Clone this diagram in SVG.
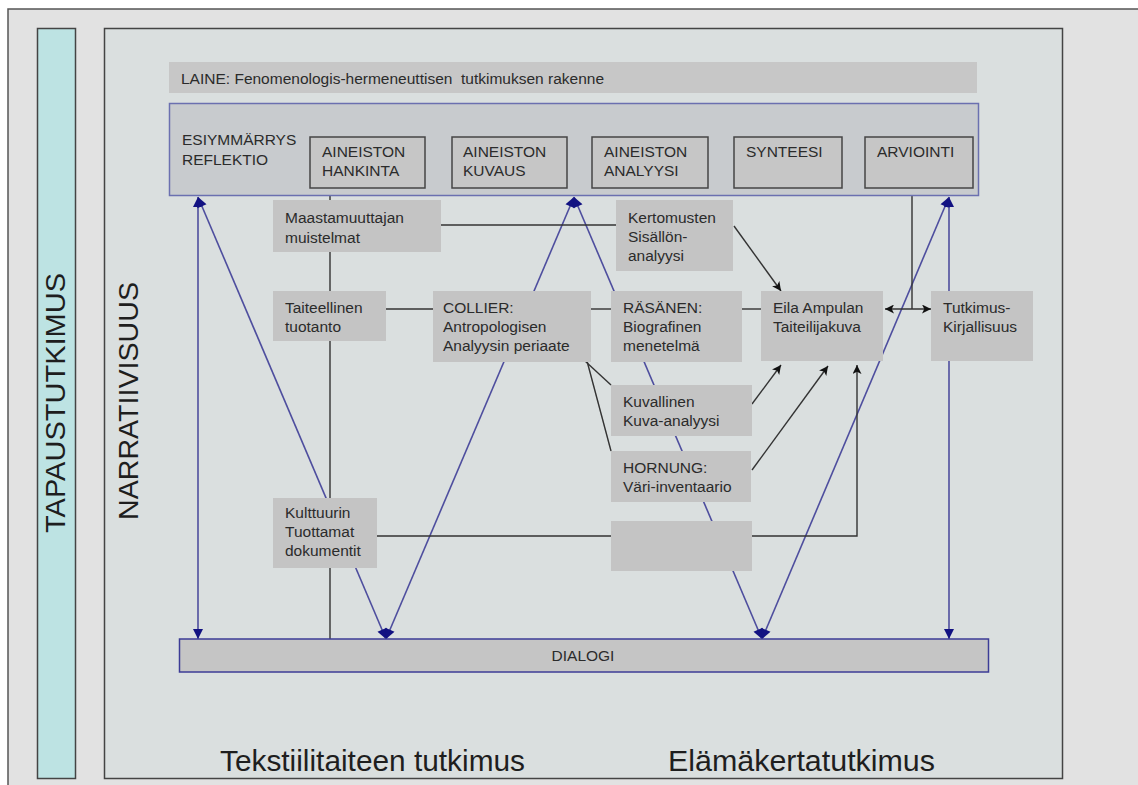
<svg xmlns="http://www.w3.org/2000/svg" width="1138" height="785" viewBox="0 0 1138 785">
<style>
text{font-family:"Liberation Sans",Arial,sans-serif;fill:#2b2b2b}
.lbl{font-size:15.5px}
.big{font-size:30px;fill:#1e1e1e}
.node{fill:#c4c4c4}
.step{fill:#c6c6c6;stroke:#454545;stroke-width:1.5}
.blk{stroke:#333;stroke-width:1.4;fill:none}
.blu{stroke:#4e4e9e;stroke-width:1.6;fill:none}
</style>
<defs>
<marker id="ab" viewBox="0 0 10 10" refX="10" refY="5" markerWidth="11" markerHeight="10" markerUnits="userSpaceOnUse" orient="auto-start-reverse"><path d="M0,0 L10,5 L0,10 z" fill="#121282"/></marker>
<marker id="ak" viewBox="0 0 10 10" refX="10" refY="5" markerWidth="11" markerHeight="9" markerUnits="userSpaceOnUse" orient="auto-start-reverse"><path d="M0,0 L10,5 L0,10 L2.5,5 z" fill="#111"/></marker>
</defs>
<rect x="0" y="0" width="1138" height="785" fill="#ffffff"/>
<rect x="8" y="9" width="1140" height="790" fill="#e2e2e2" stroke="#555" stroke-width="1.5"/>
<g id="tapaustutkimus">
<rect x="37.5" y="28.5" width="38" height="750" fill="#bde3e3" stroke="#444" stroke-width="1.5"/>
<text class="big" transform="translate(65,403) rotate(-90)" text-anchor="middle" style="font-size:28px" textLength="260" lengthAdjust="spacingAndGlyphs">TAPAUSTUTKIMUS</text>
</g>
<g id="panel">
<rect x="104.5" y="28.5" width="958" height="750" fill="#dadfdf" stroke="#444" stroke-width="1.5"/>
<text class="big" transform="translate(138,401) rotate(-90)" text-anchor="middle" style="font-size:28px" textLength="238" lengthAdjust="spacingAndGlyphs">NARRATIIVISUUS</text>
<text class="big" x="220" y="771" textLength="305" lengthAdjust="spacingAndGlyphs">Tekstiilitaiteen tutkimus</text>
<text class="big" x="668" y="771" textLength="267" lengthAdjust="spacingAndGlyphs">Elämäkertatutkimus</text>
</g>
<g id="laine">
<rect x="169" y="62" width="808" height="31" fill="#c7c7c7"/>
<text class="lbl" x="181" y="84" xml:space="preserve">LAINE: Fenomenologis-hermeneuttisen  tutkimuksen rakenne</text>
</g>
<g id="connectors">
<line class="blu" x1="198" y1="639" x2="198" y2="197" marker-start="url(#ab)" marker-end="url(#ab)"/>
<line class="blu" x1="386" y1="639" x2="198" y2="197" marker-start="url(#ab)" marker-end="url(#ab)"/>
<line class="blu" x1="386" y1="639" x2="574" y2="197" marker-start="url(#ab)" marker-end="url(#ab)"/>
<line class="blu" x1="762" y1="639" x2="574" y2="197" marker-start="url(#ab)" marker-end="url(#ab)"/>
<line class="blu" x1="762" y1="639" x2="949" y2="197" marker-start="url(#ab)" marker-end="url(#ab)"/>
<line class="blu" x1="949" y1="639" x2="949" y2="197" marker-start="url(#ab)" marker-end="url(#ab)"/>
<line class="blk" x1="330" y1="188" x2="330" y2="639"/>
<line class="blk" x1="441" y1="225" x2="616" y2="225"/>
<line class="blk" x1="386" y1="309" x2="433" y2="309"/>
<line class="blk" x1="591" y1="309" x2="611" y2="309"/>
<line class="blk" x1="742" y1="309" x2="761" y2="309"/>
<line class="blk" x1="585" y1="361" x2="611" y2="385"/>
<line class="blk" x1="587" y1="361" x2="611" y2="451"/>
<line class="blk" x1="734" y1="226" x2="781" y2="291" marker-end="url(#ak)"/>
<line class="blk" x1="752" y1="404" x2="781" y2="365" marker-end="url(#ak)"/>
<line class="blk" x1="752" y1="470" x2="828" y2="366" marker-end="url(#ak)"/>
<polyline class="blk" points="377,536 857,536 857,365" marker-end="url(#ak)"/>
<line class="blk" x1="912" y1="188" x2="912" y2="309"/>
<line class="blk" x1="885" y1="309" x2="931" y2="309" marker-start="url(#ak)" marker-end="url(#ak)"/>
</g>
<g id="esiymmarrys">
<rect x="169.5" y="103.5" width="809" height="92" fill="#c8cbce" stroke="#6b70b0" stroke-width="1.5"/>
<text class="lbl" x="182" y="145">ESIYMMÄRRYS</text>
<text class="lbl" x="182" y="165">REFLEKTIO</text>
</g>
<g id="hankinta"><rect class="step" x="310" y="137" width="115" height="51"/><text class="lbl" x="322" y="157">AINEISTON</text><text class="lbl" x="322" y="176">HANKINTA</text></g>
<g id="kuvaus"><rect class="step" x="452" y="137" width="115" height="51"/><text class="lbl" x="463" y="157">AINEISTON</text><text class="lbl" x="463" y="176">KUVAUS</text></g>
<g id="analyysi"><rect class="step" x="592" y="137" width="116" height="51"/><text class="lbl" x="604" y="157">AINEISTON</text><text class="lbl" x="604" y="176">ANALYYSI</text></g>
<g id="synteesi"><rect class="step" x="734" y="137" width="108" height="51"/><text class="lbl" x="746" y="157">SYNTEESI</text></g>
<g id="arviointi"><rect class="step" x="865" y="137" width="108" height="51"/><text class="lbl" x="877" y="157">ARVIOINTI</text></g>
<g id="maastamuuttajan"><rect class="node" x="273" y="200" width="168" height="52"/><text class="lbl" x="285" y="223">Maastamuuttajan</text><text class="lbl" x="285" y="243">muistelmat</text></g>
<g id="kertomusten"><rect class="node" x="616" y="200" width="117" height="71"/><text class="lbl" x="628" y="223">Kertomusten</text><text class="lbl" x="628" y="242">Sisällön-</text><text class="lbl" x="628" y="261">analyysi</text></g>
<g id="taiteellinen"><rect class="node" x="273" y="291" width="113" height="50"/><text class="lbl" x="285" y="313">Taiteellinen</text><text class="lbl" x="285" y="332">tuotanto</text></g>
<g id="collier"><rect class="node" x="433" y="291" width="158" height="71"/><text class="lbl" x="443" y="313">COLLIER:</text><text class="lbl" x="443" y="332">Antropologisen</text><text class="lbl" x="443" y="351">Analyysin periaate</text></g>
<g id="rasanen"><rect class="node" x="611" y="291" width="131" height="71"/><text class="lbl" x="623" y="313">RÄSÄNEN:</text><text class="lbl" x="623" y="332">Biografinen</text><text class="lbl" x="623" y="351">menetelmä</text></g>
<g id="eila"><rect class="node" x="761" y="291" width="122" height="70"/><text class="lbl" x="773" y="313">Eila Ampulan</text><text class="lbl" x="773" y="332">Taiteilijakuva</text></g>
<g id="tutkimus"><rect class="node" x="931" y="291" width="102" height="70"/><text class="lbl" x="943" y="313">Tutkimus-</text><text class="lbl" x="943" y="332">Kirjallisuus</text></g>
<g id="kuvallinen"><rect class="node" x="611" y="385" width="141" height="51"/><text class="lbl" x="623" y="407">Kuvallinen</text><text class="lbl" x="623" y="426">Kuva-analyysi</text></g>
<g id="hornung"><rect class="node" x="611" y="451" width="140" height="51"/><text class="lbl" x="623" y="473">HORNUNG:</text><text class="lbl" x="623" y="492">Väri-inventaario</text></g>
<g id="empty"><rect class="node" x="611" y="521" width="141" height="50"/></g>
<g id="kulttuurin"><rect class="node" x="273" y="498" width="104" height="70"/><text class="lbl" x="285" y="518">Kulttuurin</text><text class="lbl" x="285" y="537">Tuottamat</text><text class="lbl" x="285" y="556">dokumentit</text></g>
<g id="dialogi">
<rect x="179.5" y="639" width="809" height="33" fill="#c5c5c5" stroke="#3c3c96" stroke-width="1.5"/>
<text class="lbl" x="583" y="661" text-anchor="middle">DIALOGI</text>
</g>
</svg>
